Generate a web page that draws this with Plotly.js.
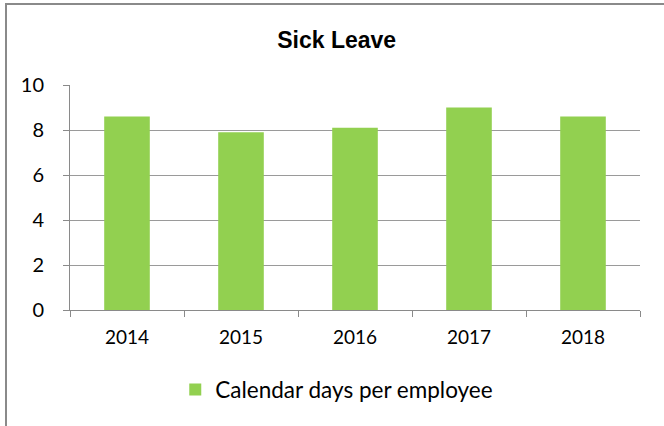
<!DOCTYPE html>
<html>
<head>
<meta charset="utf-8">
<script src="https://cdn.plot.ly/plotly-3.0.1.min.js"></script>
<style>
    body { margin: 0; background: #ffffff; overflow: hidden; }
    #graph { position: absolute; left: 0; top: 0; width: 664px; height: 426px; }
    #frame {
        position: absolute; left: 5px; top: 3px; width: 700px; height: 500px;
        border-top: 2px solid #8a8a8a; border-left: 2px solid #8a8a8a;
        pointer-events: none;
    }
</style>
</head>
<body>
<div id="graph"></div>
<div id="frame"></div>
<script>
// chart data
var years = ['2014', '2015', '2016', '2017', '2018'];
var daysPerEmployee = [8.6, 7.9, 8.1, 9.0, 8.6];
var yTicks = [0, 2, 4, 6, 8, 10];

var trace = {
    x: years,
    y: daysPerEmployee,
    type: 'bar',
    name: 'Calendar days per employee',
    marker: { color: '#92d050' },
    hoverinfo: 'x+y'
};

var layout = {
    width: 664,
    height: 426,
    paper_bgcolor: 'rgba(0,0,0,0)',
    plot_bgcolor: '#ffffff',
    margin: { l: 70, r: 24, t: 85, b: 116 },
    title: {
        text: '<b>Sick Leave</b>',
        font: { family: 'Liberation Sans, Arial', size: 23, color: '#000000' },
        x: 0.507,
        xref: 'container',
        xanchor: 'center',
        y: 0.906,
        yref: 'container',
        yanchor: 'middle'
    },
    xaxis: {
        type: 'category',
        tickson: 'boundaries',
        ticks: 'outside',
        ticklen: 6,
        tickcolor: '#8a8a8a',
        showline: true,
        linecolor: '#8a8a8a',
        linewidth: 1,
        showgrid: false,
        tickangle: 0,
        ticklabelstandoff: 10,
        tickfont: { family: 'Lato', size: 19, color: '#000000' }
    },
    yaxis: {
        range: [0, 10],
        tickvals: yTicks,
        ticks: 'outside',
        ticklen: 6,
        tickcolor: '#8a8a8a',
        showline: true,
        linecolor: '#8a8a8a',
        linewidth: 1,
        gridcolor: '#9a9a9a',
        gridwidth: 1,
        zeroline: false,
        ticklabelstandoff: 15,
        tickfont: { family: 'Lato', size: 20, color: '#000000' }
    },
    bargap: 0.6,
    showlegend: true,
    legend: {
        orientation: 'h',
        x: 0.468,
        xref: 'paper',
        xanchor: 'center',
        y: 0.085,
        yref: 'container',
        yanchor: 'middle',
        font: { family: 'Lato', size: 22.5, color: '#000000' }
    }
};

Plotly.newPlot('graph', [trace], layout, { displayModeBar: false, staticPlot: true });
</script>
</body>
</html>
